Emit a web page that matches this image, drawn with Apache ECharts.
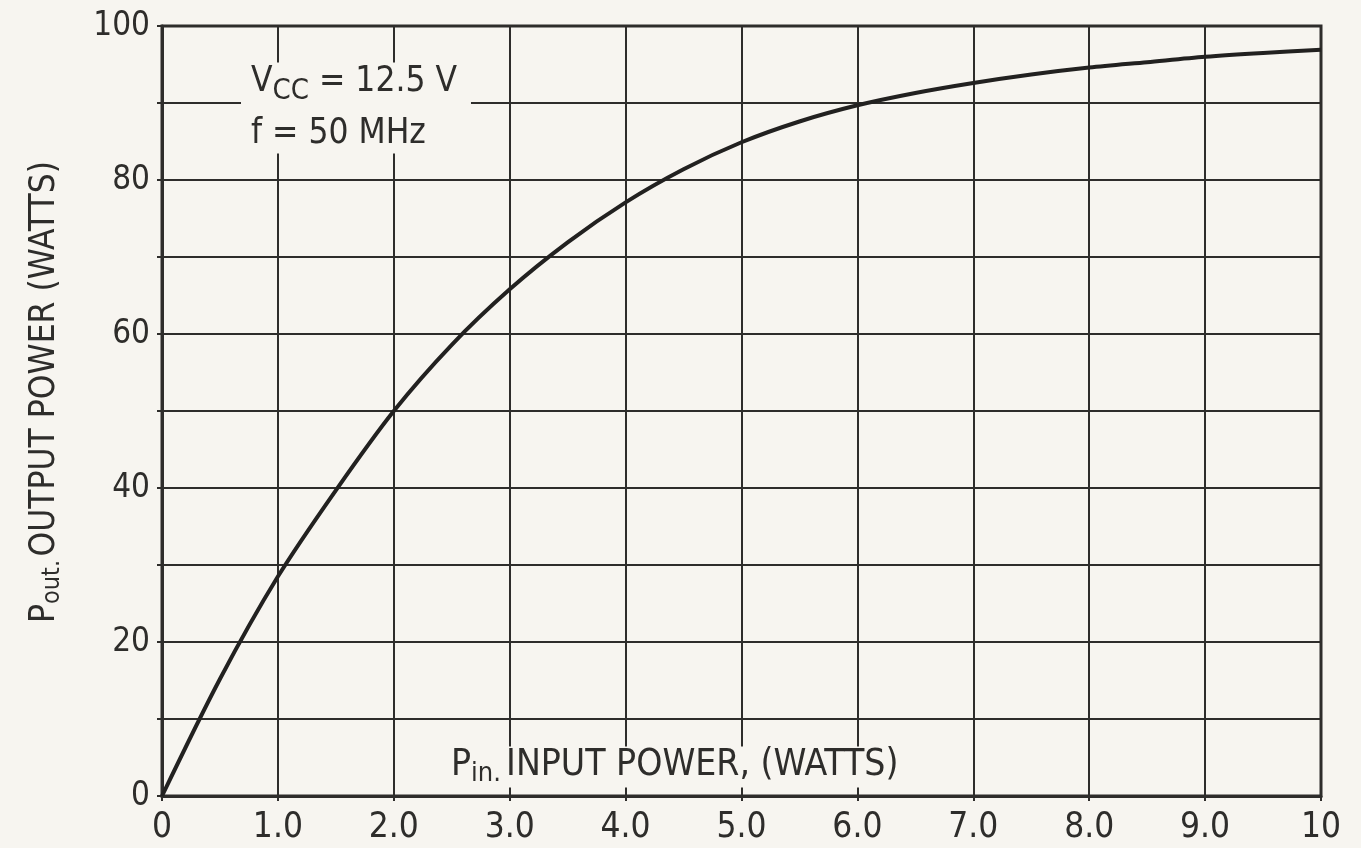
<!DOCTYPE html>
<html>
<head>
<meta charset="utf-8">
<title>Pout vs Pin</title>
<script src="https://cdn.jsdelivr.net/npm/echarts@6/dist/echarts.min.js"></script>
<style>
  html, body { margin: 0; padding: 0; background: #f7f5f0; }
  #main { width: 1361px; height: 848px; }
</style>
</head>
<body>
<div id="main"></div>
<script>
var chartDom = document.getElementById('main');
var myChart = echarts.init(chartDom);
var option;

// input power (watts) and output power (watts)
var pin = [0, 0.5, 1, 1.5, 2, 2.5, 3, 3.5, 4, 4.5, 5, 5.5, 6, 6.5, 7, 7.5, 8, 8.5, 9, 9.5, 10];
var pout = [0, 15.2, 28.5, 39.7, 50, 58.6, 65.8, 71.9, 77.1, 81.4, 84.9, 87.6, 89.7, 91.3, 92.6, 93.7, 94.6, 95.3, 96, 96.5, 96.9];

var xTickLabels = ['0', '1.0', '2.0', '3.0', '4.0', '5.0', '6.0', '7.0', '8.0', '9.0', '10'];
var yTickLabels = ['0', '', '20', '', '40', '', '60', '', '80', '', '100'];

var ink = '#2e2d2b';
var paper = '#f7f5f0';
var font = "'DejaVu Sans Condensed', 'Liberation Sans Narrow', sans-serif";

var curve = [];
for (var i = 0; i < pin.length; i++) {
  curve.push([pin[i], pout[i]]);
}

option = {
  backgroundColor: paper,
  animation: false,
  // the two boxed notes inside the plot
  title: [
    {
      text: '{v|V}{s|CC}{v| = 12.5 V}\n{v|f = 50 MHz}',
      left: 241,
      top: 54,
      padding: [2, 14, 2, 10],
      backgroundColor: paper,
      textStyle: {
        color: ink,
        fontFamily: font,
        fontWeight: 'normal',
        rich: {
          v: { fontSize: 35, fontFamily: font, color: ink, lineHeight: 52 },
          s: { fontSize: 29, fontFamily: font, color: ink, padding: [18, 0, 0, 0] }
        }
      }
    },
    {
      text: '{p|P}{s|in.} {t|INPUT POWER, (WATTS)}',
      left: 443,
      top: 736,
      padding: [0, 14, 0, 8],
      backgroundColor: paper,
      textStyle: {
        color: ink,
        fontFamily: font,
        fontWeight: 'normal',
        rich: {
          p: { fontSize: 37, fontFamily: font, color: ink, lineHeight: 58 },
          s: { fontSize: 27, fontFamily: font, color: ink, padding: [18, 0, 0, 0] },
          t: { fontSize: 37, fontFamily: font, color: ink, lineHeight: 58 }
        }
      }
    }
  ],
  grid: {
    left: 162,
    right: 40,
    top: 26,
    bottom: 52,
    show: true,
    borderColor: ink,
    borderWidth: 3,
    containLabel: false
  },
  xAxis: {
    type: 'value',
    min: 0,
    max: 10,
    interval: 1,
    axisLine: { show: true, lineStyle: { color: ink, width: 3 } },
    axisTick: { show: true, length: 5, lineStyle: { color: ink, width: 2 } },
    splitLine: { show: true, lineStyle: { color: ink, width: 2 } },
    axisLabel: {
      color: ink,
      fontFamily: font,
      fontSize: 35,
      margin: 14,
      formatter: function (v) { return xTickLabels[Math.round(v)]; }
    }
  },
  yAxis: {
    type: 'value',
    min: 0,
    max: 100,
    interval: 10,
    name: '{p|P}{s|out.} {t|OUTPUT POWER (WATTS)}',
    nameLocation: 'middle',
    nameRotate: 90,
    nameGap: 96,
    nameTextStyle: {
      color: ink,
      fontFamily: font,
      padding: [0, 0, 0, 38],
      rich: {
        p: { fontSize: 35, fontFamily: font, color: ink, lineHeight: 42 },
        s: { fontSize: 25, fontFamily: font, color: ink, padding: [14, 0, 0, 0] },
        t: { fontSize: 35, fontFamily: font, color: ink, lineHeight: 42 }
      }
    },
    axisLine: { show: true, lineStyle: { color: ink, width: 3 } },
    axisTick: { show: true, length: 5, lineStyle: { color: ink, width: 2 } },
    splitLine: { show: true, lineStyle: { color: ink, width: 2 } },
    axisLabel: {
      color: ink,
      fontFamily: font,
      fontSize: 33,
      margin: 12,
      formatter: function (v) { return yTickLabels[Math.round(v / 10)]; }
    }
  },
  series: [
    {
      name: 'Pout',
      type: 'line',
      data: curve,
      smooth: 0.3,
      symbol: 'none',
      lineStyle: { color: '#222120', width: 4 },
      z: 5
    }
  ]
};

option && myChart.setOption(option);
</script>
</body>
</html>
